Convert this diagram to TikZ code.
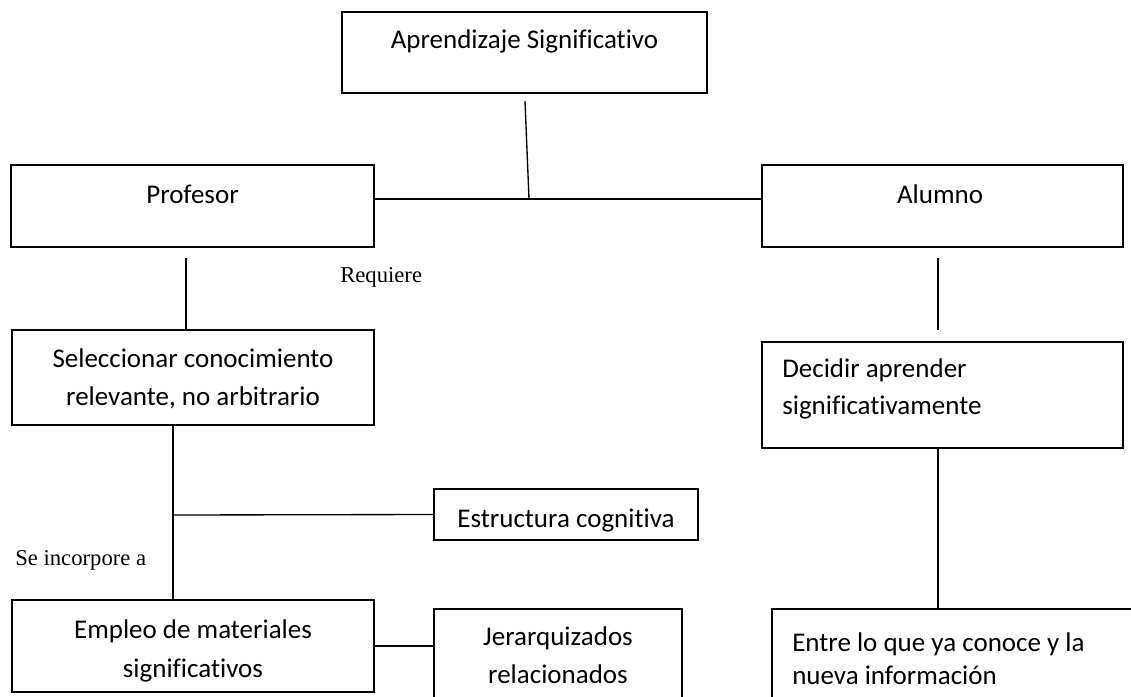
\documentclass[tikz,border=0pt]{standalone}
\usepackage{fontspec}
\setmainfont{Carlito}[Ligatures={TeX,NoCommon}]
\newfontfamily\tmsfont{Liberation Serif}
\begin{document}
\begin{tikzpicture}[x=0.75pt,y=-0.75pt,
  box/.style={draw, line width=1.1pt, inner sep=0pt, rectangle},
  lbl/.style={font=\fontsize{20.25}{24}\selectfont, inner sep=0pt},
  tlbl/.style={font=\tmsfont\fontsize{17}{20}\selectfont, inner sep=0pt},
  conn/.style={line width=1pt}]
\useasboundingbox (0,0) rectangle (1131,696);
\clip (0,0) rectangle (1131,696);
\fill[white] (0,0) rectangle (1131,696);
% boxes
\node[box, minimum width={365*0.75pt}, minimum height={81*0.75pt}] (apr) at (524.5,52.5) {};
\node[box, minimum width={363*0.75pt}, minimum height={82*0.75pt}] (prof) at (192.5,206) {};
\node[box, minimum width={361*0.75pt}, minimum height={82*0.75pt}] (alum) at (942.5,206) {};
\node[box, minimum width={362*0.75pt}, minimum height={95*0.75pt}] (sel) at (193,377.5) {};
\node[box, minimum width={361*0.75pt}, minimum height={106*0.75pt}] (dec) at (942.5,395) {};
\node[box, minimum width={264*0.75pt}, minimum height={51*0.75pt}] (est) at (566,514.5) {};
\node[box, minimum width={362*0.75pt}, minimum height={92*0.75pt}] (emp) at (193,646) {};
\node[box, minimum width={248*0.75pt}, minimum height={131*0.75pt}] (jer) at (558,674.5) {};
\node[box, minimum width={388*0.75pt}, minimum height={131*0.75pt}] (ent) at (966,674.5) {};
% texts
\node[lbl, anchor=base] (aprT) at (524.5,48) {Aprendizaje Significativo};
\node[lbl, anchor=base] (profT) at (192.5,203) {Profesor};
\node[lbl, anchor=base] (alumT) at (940,203) {Alumno};
\node[lbl, anchor=base] (selT1) at (193,367) {Seleccionar conocimiento};
\node[lbl, anchor=base] (selT2) at (193,405) {relevante, no arbitrario};
\node[lbl, anchor=base west] (decT1) at (782,377) {Decidir aprender};
\node[lbl, anchor=base west] (decT2) at (782,414) {significativamente};
\node[lbl, anchor=base] (estT) at (566,527) {Estructura cognitiva};
\node[lbl, anchor=base] (empT1) at (193,638) {Empleo de materiales};
\node[lbl, anchor=base] (empT2) at (193,677) {significativos};
\node[lbl, anchor=base] (jerT1) at (558,645) {Jerarquizados};
\node[lbl, anchor=base] (jerT2) at (558,683) {relacionados};
\node[lbl, anchor=base west] (entT1) at (792,651) {Entre lo que ya conoce y la};
\node[lbl, anchor=base west] (entT2) at (792,684) {nueva información};
\node[tlbl, anchor=base west] (req) at (340,282) {Requiere};
\node[tlbl, anchor=base west] (inc) at (15,565) {Se incorpore a};
% connectors
\coordinate (aprB) at (525,101);
\coordinate (hub) at (529,199);
\draw[conn] (aprB) -- (hub);
\draw[conn] (prof.east |- hub) -- (alum.west |- hub);
\coordinate (profB) at (186,258);
\draw[conn] (profB) -- (profB |- sel.north);
\coordinate (spine) at (173,515);
\draw[conn] (spine |- sel.south) -- (spine |- emp.north);
\draw[conn] (spine) -- (est.west);
\draw[conn] (emp.east) -- (emp.east -| jer.west);
\coordinate (alB) at (938,258);
\coordinate (decTop) at (938,330);
\draw[conn] (alB) -- (decTop);
\draw[conn] (dec.south -| alB) -- (ent.north -| alB);
\end{tikzpicture}
\end{document}
